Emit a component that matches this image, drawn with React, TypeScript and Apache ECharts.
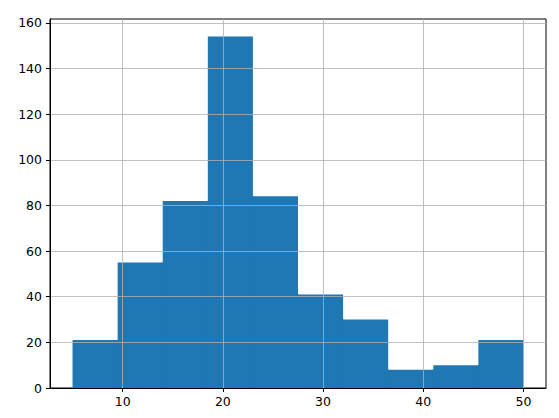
import React, { useEffect, useRef } from "react";
import * as echarts from "echarts";

const binEdges = [5, 9.5, 14, 18.5, 23, 27.5, 32, 36.5, 41, 45.5, 50];
const counts = [21, 55, 82, 154, 84, 41, 30, 8, 10, 21];
const xTicks = [10, 20, 30, 40, 50];
const yTicks = [0, 20, 40, 60, 80, 100, 120, 140, 160];

export default function App() {
  const ref = useRef<HTMLDivElement>(null);
  useEffect(() => {
    if (!ref.current) return;
    const chart = echarts.init(ref.current, null, { renderer: "svg" });
    const data = counts.map((c, i) => [binEdges[i], binEdges[i + 1], c]);
    const span = binEdges[binEdges.length - 1] - binEdges[0];
    const xMin = binEdges[0] - span * 0.05;
    const xMax = binEdges[binEdges.length - 1] + span * 0.05;
    const yMax = Math.max(...counts) * 1.05;
    const font = { fontFamily: "DejaVu Sans", fontSize: 12.5, color: "#000" };
    chart.setOption({
      animation: false,
      grid: {
        left: 50,
        top: 19,
        right: 13,
        bottom: 30,
        show: true,
        borderColor: "#000",
        borderWidth: 1,
        backgroundColor: "transparent",
      },
      xAxis: {
        type: "value",
        min: xMin,
        max: xMax,
        z: 5,
        axisLine: { show: true, onZero: false, lineStyle: { color: "#000", width: 1 } },
        axisTick: { show: true, length: 4, customValues: xTicks, lineStyle: { color: "#000" } },
        axisLabel: { ...font, margin: 7, customValues: xTicks },
        splitLine: { show: true, lineStyle: { color: "#b0b0b0", width: 0.8 } },
      },
      yAxis: {
        type: "value",
        min: 0,
        max: yMax,
        z: 5,
        axisLine: { show: true, lineStyle: { color: "#000", width: 1 } },
        axisTick: { show: true, length: 4, customValues: yTicks, lineStyle: { color: "#000" } },
        axisLabel: { ...font, margin: 8, customValues: yTicks },
        splitLine: { show: true, lineStyle: { color: "#b0b0b0", width: 0.8 } },
      },
      series: [
        {
          type: "custom",
          z: 2,
          data,
          encode: { x: [0, 1], y: 2 },
          renderItem: (params: any, api: any) => {
            const i = params.dataIndex;
            const p0 = api.coord([api.value(0), 0]);
            const p1 = api.coord([api.value(1), api.value(2)]);
            const children: any[] = [
              {
                type: "rect",
                shape: { x: p0[0], y: p1[1], width: p1[0] - p0[0], height: p0[1] - p1[1] },
                style: { fill: "#1f77b4" },
              },
            ];
            if (i < counts.length - 1) {
              const h = Math.min(counts[i], counts[i + 1]);
              const ph = api.coord([api.value(1), h]);
              children.push({
                type: "rect",
                shape: { x: p1[0] - 1, y: ph[1], width: 2, height: p0[1] - ph[1] },
                style: { fill: "#1f77b4" },
              });
            }
            return { type: "group", children };
          },
        },
      ],
    });
    return () => chart.dispose();
  }, []);
  return <div ref={ref} style={{ width: 559, height: 418, position: "absolute", left: 0, top: 0 }} />;
}
